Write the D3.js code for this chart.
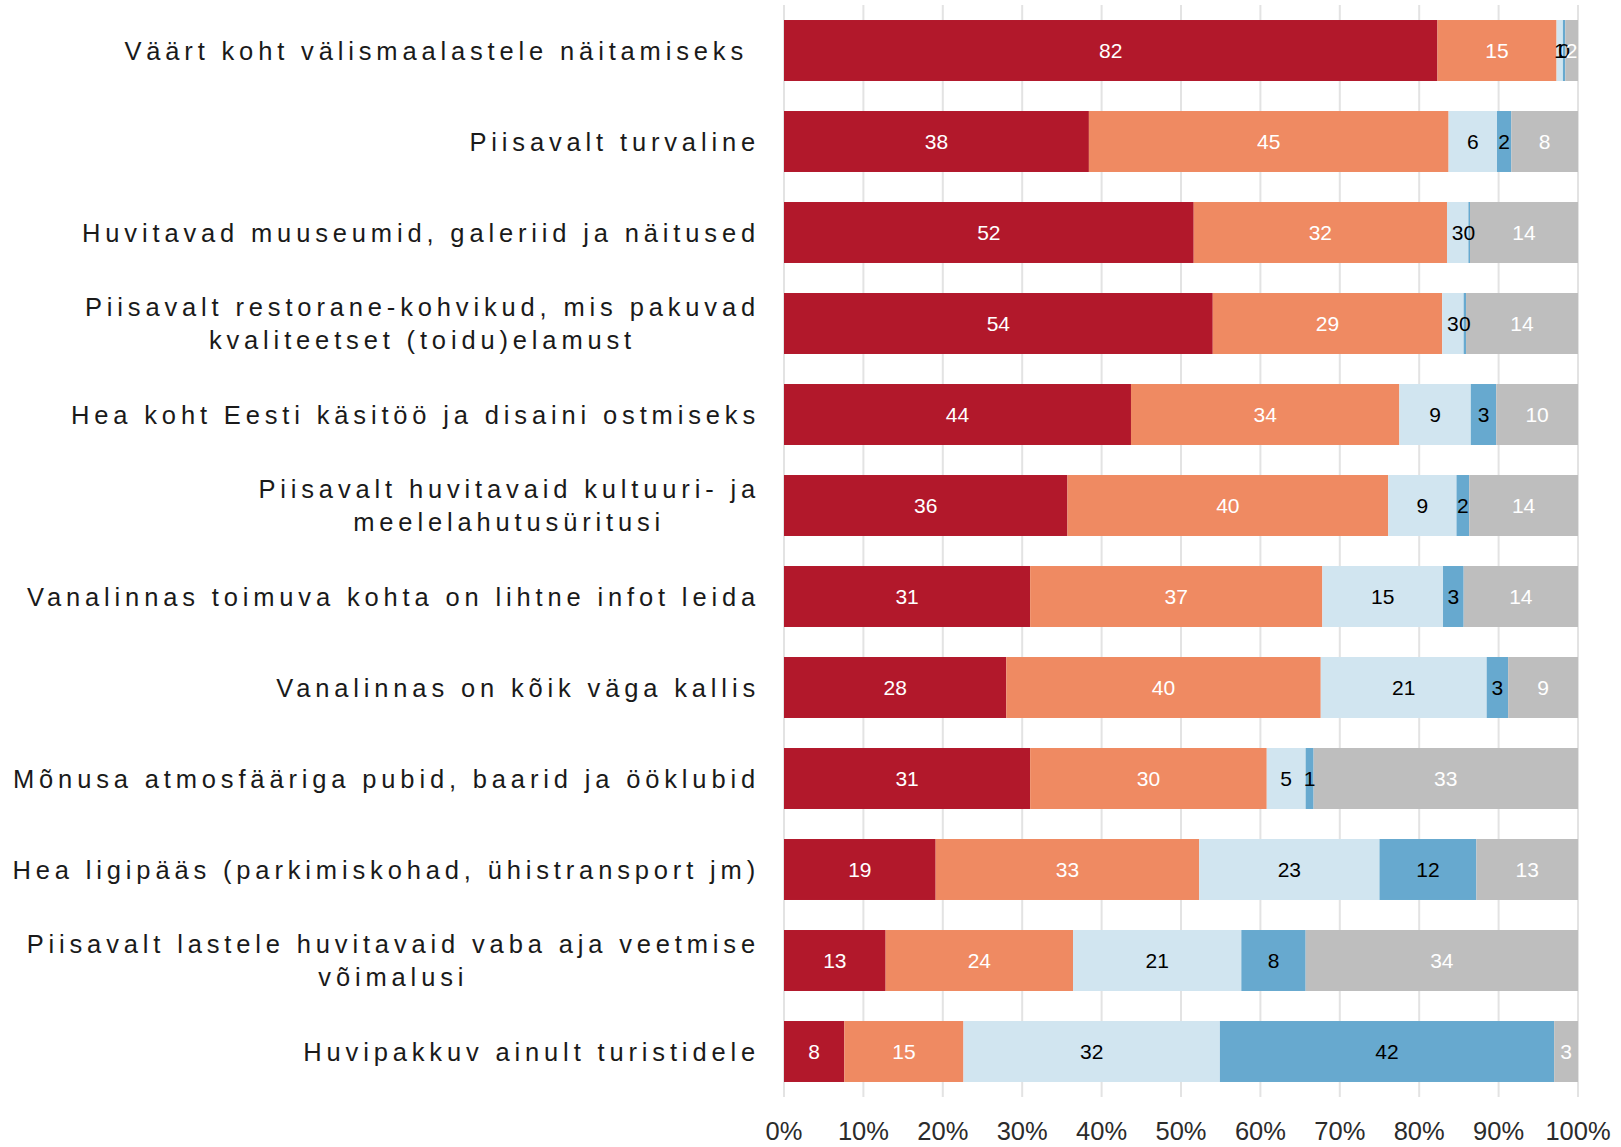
<!DOCTYPE html>
<html>
<head>
<meta charset="utf-8">
<script src="https://cdn.jsdelivr.net/npm/d3@7"></script>
<style>
  body { margin: 0; background: #fff; }
  svg { display: block; }
</style>
</head>
<body>
<div id="chart"></div>
<script>
// categories, top to bottom
const categories = [
    "Väärt koht välismaalastele näitamiseks ",
    "Piisavalt turvaline",
    "Huvitavad muuseumid, galeriid ja näitused",
    "Piisavalt restorane-kohvikud, mis pakuvad\nkvaliteetset (toidu)elamust",
    "Hea koht Eesti käsitöö ja disaini ostmiseks",
    "Piisavalt huvitavaid kultuuri- ja\nmeelelahutusüritusi",
    "Vanalinnas toimuva kohta on lihtne infot leida",
    "Vanalinnas on kõik väga kallis",
    "Mõnusa atmosfääriga pubid, baarid ja ööklubid",
    "Hea ligipääs (parkimiskohad, ühistransport jm)",
    "Piisavalt lastele huvitavaid vaba aja veetmise\nvõimalusi",
    "Huvipakkuv ainult turistidele"
];

// shares (%) per answer group, same order as categories
const fullyAgree     = [82.3, 38.4, 51.6, 54.0, 43.7, 35.7, 31.0, 28.0, 31.0, 19.1, 12.8, 7.6];
const ratherAgree    = [15.0, 45.3, 31.9, 28.9, 33.8, 40.4, 36.8, 39.6, 29.8, 33.2, 23.6, 15.0];
const ratherDisagree = [0.8, 6.1, 2.7, 2.7, 9.0, 8.6, 15.2, 20.9, 4.9, 22.7, 21.2, 32.3];
const fullyDisagree  = [0.3, 1.8, 0.2, 0.3, 3.2, 1.6, 2.6, 2.7, 1.0, 12.2, 8.1, 42.1];
const dontKnow       = [1.6, 8.4, 13.6, 14.1, 10.3, 13.7, 14.4, 8.8, 33.3, 12.8, 34.3, 3.0];

const seriesKeys = ["fullyAgree", "ratherAgree", "ratherDisagree", "fullyDisagree", "dontKnow"];
const seriesColors = ["#b2182b", "#ef8a62", "#d1e5f0", "#67a9cf", "#bebebe"];
const labelColors = ["#ffffff", "#ffffff", "#000000", "#000000", "#ffffff"];

const tickValues = d3.range(0, 1.0001, 0.1);

// build rows for the stack
const rows = categories.map((c, i) => ({
    category: c,
    fullyAgree: fullyAgree[i],
    ratherAgree: ratherAgree[i],
    ratherDisagree: ratherDisagree[i],
    fullyDisagree: fullyDisagree[i],
    dontKnow: dontKnow[i]
}));

const W = 1621, H = 1147;
const plot = { left: 784, right: 1578, top: 5, bottom: 1097 };

const svg = d3.select("#chart").append("svg")
    .attr("width", W)
    .attr("height", H);

const x = d3.scaleLinear().domain([0, 1]).range([plot.left, plot.right]);
const y = d3.scaleBand()
    .domain(categories)
    .range([plot.top, plot.bottom])
    .paddingInner(0.33)
    .paddingOuter(0.165);

const color = d3.scaleOrdinal().domain(seriesKeys).range(seriesColors);
const labelColor = d3.scaleOrdinal().domain(seriesKeys).range(labelColors);

// normalise each row to 100%
const stack = d3.stack().keys(seriesKeys).offset(d3.stackOffsetExpand);
const series = stack(rows);

// vertical grid lines + ticks
svg.append("g")
    .selectAll("line")
    .data(tickValues)
    .join("line")
    .attr("x1", d => x(d))
    .attr("x2", d => x(d))
    .attr("y1", plot.top)
    .attr("y2", plot.bottom)
    .attr("stroke", "#e3e3e3")
    .attr("stroke-width", 2);

// bars
const layer = svg.append("g")
    .selectAll("g")
    .data(series)
    .join("g")
    .attr("fill", d => color(d.key));

layer.selectAll("rect")
    .data(d => d)
    .join("rect")
    .attr("x", d => x(d[0]))
    .attr("y", d => y(d.data.category))
    .attr("width", d => x(d[1]) - x(d[0]))
    .attr("height", y.bandwidth());

// value labels
const valueFont = 21;
svg.append("g")
    .selectAll("g")
    .data(series)
    .join("g")
    .attr("fill", d => labelColor(d.key))
    .selectAll("text")
    .data(d => d.map(v => ({ v, key: d.key })))
    .join("text")
    .attr("x", d => x((d.v[0] + d.v[1]) / 2))
    .attr("y", d => y(d.v.data.category) + y.bandwidth() / 2 + valueFont * 0.36)
    .attr("text-anchor", "middle")
    .style("font-family", "'Liberation Sans', Arial, sans-serif")
    .style("font-size", valueFont + "px")
    .text(d => Math.round(d.v.data[d.key]));

// category labels (multi-line, lines centred within block, block right-aligned)
const catFont = 25.5;
const lineGap = 33.3;
const labelRight = 760;
const catG = svg.append("g");

categories.forEach(c => {
    const lines = c.split("\n");
    const cy = y(c) + y.bandwidth() / 2;
    const firstBase = cy + catFont * 0.36 - (lines.length - 1) * lineGap / 2;
    const t = catG.append("text")
        .style("font-family", "'Liberation Sans', Arial, sans-serif")
        .style("font-size", catFont + "px")
        .style("letter-spacing", "4.85px")
        .style("white-space", "pre")
        .attr("fill", "#1a1a1a");
    const spans = lines.map((ln, i) => t.append("tspan")
        .attr("y", firstBase + i * lineGap)
        .text(ln));
    const widths = spans.map(s => s.node().getComputedTextLength());
    const maxW = d3.max(widths);
    const cx = labelRight - maxW / 2;
    spans.forEach((s, i) => s.attr("x", cx - widths[i] / 2));
});

// x axis tick labels
svg.append("g")
    .selectAll("text")
    .data(tickValues)
    .join("text")
    .attr("x", d => x(d))
    .attr("y", 1140)
    .attr("text-anchor", "middle")
    .attr("fill", "#2b2b2b")
    .style("font-family", "'Liberation Sans', Arial, sans-serif")
    .style("font-size", "25.5px")
    .text(d => d3.format(".0%")(d));
</script>
</body>
</html>
